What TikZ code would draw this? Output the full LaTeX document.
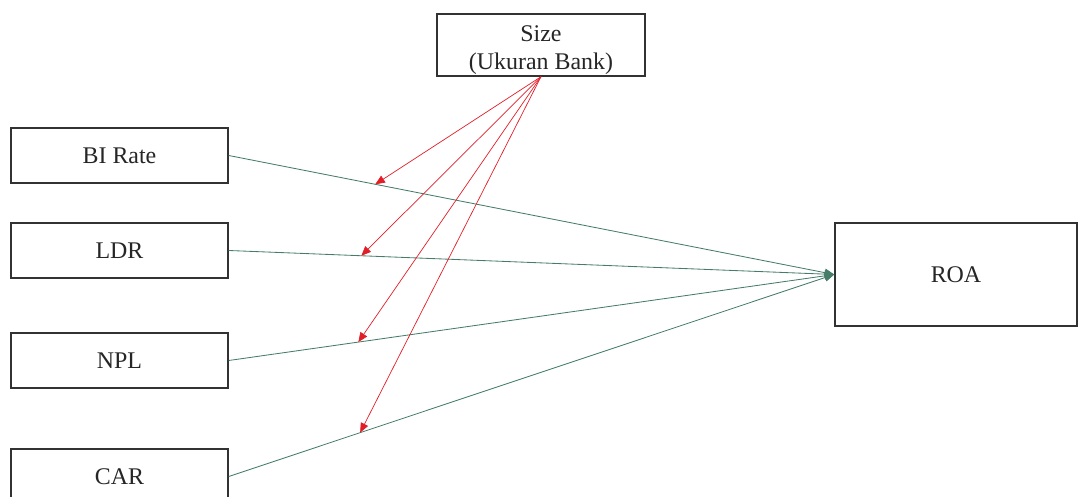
\documentclass[tikz,border=0pt]{standalone}
\usepackage{fontspec}
\setmainfont{Liberation Serif}
\usetikzlibrary{arrows.meta}
\definecolor{boxline}{RGB}{50,50,50}
\definecolor{pathgreen}{RGB}{70,125,105}
\definecolor{modred}{RGB}{225,30,40}
\begin{document}
\begin{tikzpicture}[x=0.025cm,y=-0.025cm,
  varbox/.style={draw=boxline,line width=1pt,fill=white,inner sep=0pt,align=center,
    font=\fontsize{17}{20}\selectfont,text=black!85},
  greenpath/.style={draw=pathgreen,line width=0.6pt,-{Triangle[length=2.4mm,width=2mm]}},
  redpath/.style={draw=modred,line width=0.5pt,-{Triangle[length=2.4mm,width=2mm]}}]
\useasboundingbox (0,0) rectangle (1078,497);
\node[varbox,minimum width=5.2cm,minimum height=1.55cm] (size) at (541,45) {\rule{0pt}{18pt}Size\\(Ukuran Bank)};
\node[varbox,minimum width=5.425cm,minimum height=1.375cm] (bi) at (119.5,155.5) {BI Rate};
\node[varbox,minimum width=5.425cm,minimum height=1.375cm] (ldr) at (119.5,250.5) {LDR};
\node[varbox,minimum width=5.425cm,minimum height=1.375cm] (npl) at (119.5,360.5) {NPL};
\node[varbox,minimum width=5.425cm,minimum height=1.375cm] (car) at (119.5,476.5) {CAR};
\node[varbox,minimum width=6.05cm,minimum height=2.575cm] (roa) at (956,274.5) {ROA};
\draw[greenpath] (bi.east) -- coordinate[pos=0.242] (m1) (roa.west);
\draw[greenpath] (ldr.east) -- coordinate[pos=0.219] (m2) (roa.west);
\draw[greenpath] (npl.east) -- coordinate[pos=0.214] (m3) (roa.west);
\draw[greenpath] (car.east) -- coordinate[pos=0.217] (m4) (roa.west);
\draw[redpath] (size.south) -- (m1);
\draw[redpath] (size.south) -- (m2);
\draw[redpath] (size.south) -- (m3);
\draw[redpath] (size.south) -- (m4);
\end{tikzpicture}
\end{document}
